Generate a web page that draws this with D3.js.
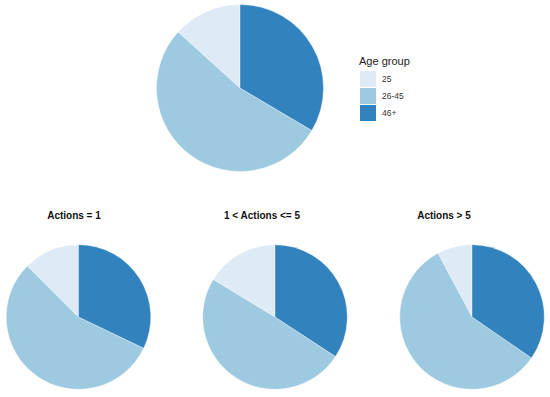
<!DOCTYPE html>
<html>
<head>
<meta charset="utf-8">
<script src="https://cdn.jsdelivr.net/npm/d3@7"></script>
<style>
  body { margin: 0; background: #fff; }
  svg { display: block; font-family: "Liberation Sans", Arial, sans-serif; }
</style>
</head>
<body>
<svg id="chart" width="550" height="397"></svg>
<script>
// age groups, legend order
var groups = ["25", "26-45", "46+"];
var colors = ["#deebf7", "#9ecae1", "#3182bd"];

// share (%) per panel, same order as groups
var overall = [13.3, 53.2, 33.5];
var actions1 = [12.5, 55.4, 32.1];
var actions2to5 = [16.3, 49.5, 34.2];
var actions6plus = [7.8, 57.6, 34.6];

var panelTitles = ["", "Actions = 1", "1 < Actions <= 5", "Actions > 5"];
var panelValues = [overall, actions1, actions2to5, actions6plus];

// layout of each panel: pie centre, radius, title centre
var panels = [
  { cx: 240, cy: 88, r: 83.5, tx: 240 },
  { cx: 78.5, cy: 317, r: 72.3, tx: 74 },
  { cx: 275, cy: 317, r: 72.3, tx: 262 },
  { cx: 472, cy: 317, r: 72.3, tx: 444 }
];

var svg = d3.select("#chart");
var color = d3.scaleOrdinal().domain(groups).range(colors);

// counter-clockwise from 12 o'clock, so "25" sits just left of the top
var pie = d3.pie()
  .sort(null)
  .startAngle(0)
  .endAngle(-2 * Math.PI)
  .value(function (d) { return d.v; });

panels.forEach(function (p, i) {
  var data = groups.map(function (g, j) { return { g: g, v: panelValues[i][j] }; });
  var arc = d3.arc().innerRadius(0).outerRadius(p.r);
  var g = svg.append("g").attr("transform", "translate(" + p.cx + "," + p.cy + ")");
  g.selectAll("path")
    .data(pie(data))
    .enter().append("path")
    .attr("d", arc)
    .attr("fill", function (d) { return color(d.data.g); })
    .attr("stroke", "#fff")
    .attr("stroke-width", 0.4);

  if (panelTitles[i]) {
    svg.append("text")
      .attr("x", p.tx)
      .attr("y", 219)
      .attr("text-anchor", "middle")
      .attr("font-size", 10)
      .attr("font-weight", "bold")
      .attr("fill", "#111")
      .text(panelTitles[i]);
  }
});

// legend
var legend = svg.append("g").attr("transform", "translate(359,0)");
legend.append("text")
  .attr("x", 0)
  .attr("y", 65)
  .attr("font-size", 11)
  .attr("fill", "#222")
  .text("Age group");

var items = legend.selectAll("g.item")
  .data(groups)
  .enter().append("g")
  .attr("class", "item")
  .attr("transform", function (d, i) { return "translate(1," + (71 + i * 17) + ")"; });
items.append("rect")
  .attr("width", 16)
  .attr("height", 16)
  .attr("fill", function (d) { return color(d); });
items.append("text")
  .attr("x", 22)
  .attr("y", 11)
  .attr("font-size", 8.5)
  .attr("fill", "#333")
  .text(function (d) { return d; });
</script>
</body>
</html>
